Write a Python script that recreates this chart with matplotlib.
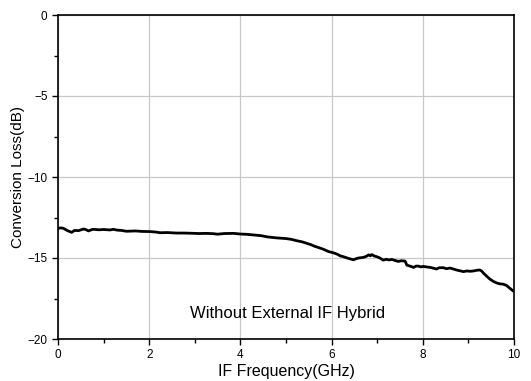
import matplotlib
matplotlib.use("Agg")
import matplotlib.pyplot as plt
from matplotlib.ticker import MultipleLocator

plt.rcParams['font.family'] = ['Liberation Sans', 'DejaVu Sans']

freq_ghz = [0.0, 0.06, 0.12, 0.2, 0.3, 0.36, 0.45, 0.56, 0.62, 0.67, 0.72, 0.77,
            0.9, 1.0, 1.14, 1.21, 1.3, 1.4, 1.5, 1.7, 1.85, 2.02, 2.15, 2.24, 2.4,
            2.6, 2.75, 2.9, 3.1, 3.25, 3.41, 3.5, 3.65, 3.85, 4.0, 4.15, 4.3, 4.45,
            4.6, 4.8, 5.0, 5.12, 5.23, 5.35, 5.45, 5.55, 5.63, 5.72, 5.82, 5.93,
            6.04, 6.12, 6.19, 6.26, 6.33, 6.4, 6.48, 6.54, 6.59, 6.65, 6.7, 6.76,
            6.81, 6.85, 6.88, 6.94, 6.99, 7.06, 7.13, 7.2, 7.26, 7.32, 7.39, 7.46,
            7.53, 7.61, 7.63, 7.65, 7.72, 7.8, 7.85, 7.9, 7.96, 8.01, 8.08, 8.16,
            8.22, 8.3, 8.36, 8.45, 8.52, 8.6, 8.67, 8.74, 8.8, 8.89, 8.97, 9.04,
            9.11, 9.18, 9.25, 9.29, 9.33, 9.4, 9.47, 9.55, 9.62, 9.7, 9.77, 9.84,
            9.9, 9.95, 10.0]
loss_db = [-13.17, -13.14, -13.17, -13.3, -13.42, -13.3, -13.31, -13.21, -13.26,
           -13.33, -13.27, -13.23, -13.26, -13.24, -13.27, -13.23, -13.28, -13.3,
           -13.35, -13.33, -13.36, -13.37, -13.4, -13.44, -13.43, -13.46, -13.46,
           -13.47, -13.49, -13.48, -13.5, -13.53, -13.49, -13.48, -13.52, -13.54,
           -13.58, -13.62, -13.7, -13.76, -13.8, -13.85, -13.93, -14.0, -14.09,
           -14.18, -14.28, -14.36, -14.46, -14.6, -14.68, -14.76, -14.87, -14.92,
           -14.99, -15.05, -15.11, -15.04, -15.0, -14.98, -14.96, -14.9, -14.81,
           -14.86, -14.79, -14.88, -14.92, -15.0, -15.13, -15.08, -15.12, -15.09,
           -15.15, -15.21, -15.17, -15.19, -15.3, -15.44, -15.5, -15.58, -15.5,
           -15.5, -15.55, -15.52, -15.55, -15.58, -15.62, -15.68, -15.6, -15.6,
           -15.66, -15.62, -15.68, -15.74, -15.78, -15.84, -15.8, -15.82, -15.8,
           -15.76, -15.74, -15.8, -15.93, -16.12, -16.3, -16.45, -16.54, -16.6,
           -16.62, -16.7, -16.85, -16.96, -17.07]

annotation = "Without External IF Hybrid"
x_label = "IF Frequency(GHz)"
y_label = "Conversion Loss(dB)"

fig = plt.figure(figsize=(5.31, 3.81), dpi=100)
ax = fig.add_axes([58/531, 1 - 339/381, (514-58)/531, (339-15)/381])

ax.plot(freq_ghz, loss_db, color='black', linewidth=2.0)

ax.set_xlim(0, 10)
ax.set_ylim(-20, 0)
ax.xaxis.set_major_locator(MultipleLocator(2))
ax.xaxis.set_minor_locator(MultipleLocator(1))
ax.yaxis.set_major_locator(MultipleLocator(5))
ax.yaxis.set_minor_locator(MultipleLocator(2.5))
ax.grid(True, which='major', color='#c8c8c8', linewidth=0.9)
ax.set_axisbelow(True)

ax.tick_params(axis='both', which='major', direction='out', length=4.5, width=1,
               labelsize=8.5, pad=3)
ax.tick_params(axis='both', which='minor', direction='out', length=3, width=1)
for s in ax.spines.values():
    s.set_linewidth(1.2)

ax.set_xlabel(x_label, fontsize=11.5, labelpad=2)
ax.set_ylabel(y_label, fontsize=11, labelpad=2)
ax.text(5.03, -18.45, annotation, fontsize=12, ha='center', va='center')

fig.savefig("out.png", dpi=100)
